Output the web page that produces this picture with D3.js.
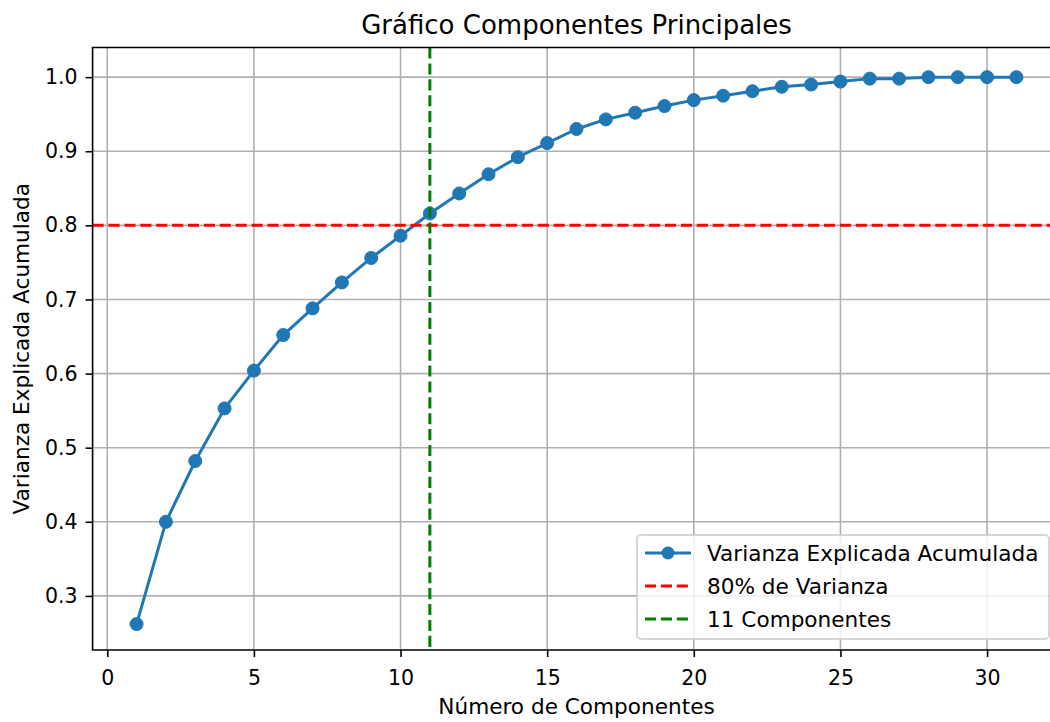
<!DOCTYPE html>
<html>
<head>
<meta charset="utf-8">
<script src="https://cdn.jsdelivr.net/npm/d3@7"></script>
<style>
  html, body { margin: 0; padding: 0; background: #fff; }
  svg { display: block; font-family: "DejaVu Sans", sans-serif; }
</style>
</head>
<body>
<svg id="chart" width="1050" height="722"></svg>
<script>
// ---- data ----
const components = [1,2,3,4,5,6,7,8,9,10,11,12,13,14,15,16,17,18,19,20,21,22,23,24,25,26,27,28,29,30,31];
const cumulativeVariance = [0.262,0.400,0.482,0.553,0.604,0.652,0.688,0.723,0.756,0.786,0.816,0.843,0.869,0.892,0.911,0.930,0.943,0.952,0.961,0.969,0.975,0.981,0.987,0.990,0.994,0.998,0.998,1.000,1.000,1.000,1.000];
const xTicks = [0,5,10,15,20,25,30];
const yTicks = [0.3,0.4,0.5,0.6,0.7,0.8,0.9,1.0];
const thresholdValue = [0.8];
const nComponents = [11];
const labels = {
  title: "Gráfico Componentes Principales",
  x: "Número de Componentes",
  y: "Varianza Explicada Acumulada",
  series: "Varianza Explicada Acumulada",
  threshold: "80% de Varianza",
  comps: "11 Componentes"
};

(function () {
// ---- layout ----
const svg = d3.select("#chart");
const pL = 92.6, pR = 1060.4, pT = 47.5, pB = 650;
const x = d3.scaleLinear().domain([-0.5, 32.5]).range([pL, pR]);
const y = d3.scaleLinear().domain([0.227, 1.040]).range([pB, pT]);
const blue = "#1f77b4";

svg.append("defs").append("clipPath").attr("id", "clip")
  .append("rect").attr("x", pL).attr("y", pT).attr("width", pR - pL).attr("height", pB - pT);

// grid
const grid = svg.append("g").attr("clip-path", "url(#clip)");
grid.selectAll(".gx").data(xTicks).enter().append("line")
  .attr("x1", d => x(d)).attr("x2", d => x(d)).attr("y1", pT).attr("y2", pB)
  .attr("stroke", "#b0b0b0").attr("stroke-width", 1.6);
grid.selectAll(".gy").data(yTicks).enter().append("line")
  .attr("x1", pL).attr("x2", pR).attr("y1", d => y(d)).attr("y2", d => y(d))
  .attr("stroke", "#b0b0b0").attr("stroke-width", 1.6);

// data
const plot = svg.append("g").attr("clip-path", "url(#clip)");
const pts = components.map((c, i) => [c, cumulativeVariance[i]]);
plot.append("path").datum(pts)
  .attr("d", d3.line().x(d => x(d[0])).y(d => y(d[1])))
  .attr("fill", "none").attr("stroke", blue).attr("stroke-width", 3)
  .attr("stroke-linejoin", "round").attr("stroke-linecap", "square");
plot.selectAll("circle.pt").data(pts).enter().append("circle")
  .attr("cx", d => x(d[0])).attr("cy", d => y(d[1])).attr("r", 6.5)
  .attr("fill", blue).attr("stroke", blue).attr("stroke-width", 1);

// reference lines
plot.selectAll(".hline").data(thresholdValue).enter().append("line")
  .attr("x1", pL).attr("x2", pR).attr("y1", d => y(d)).attr("y2", d => y(d))
  .attr("stroke", "red").attr("stroke-width", 3).attr("stroke-dasharray", "11.1,4.8");
plot.selectAll(".vline").data(nComponents).enter().append("line")
  .attr("x1", d => x(d)).attr("x2", d => x(d)).attr("y1", pT).attr("y2", pB)
  .attr("stroke", "green").attr("stroke-width", 3).attr("stroke-dasharray", "11.1,4.8");

// axes
const xAxis = d3.axisBottom(x).tickValues(xTicks).tickSizeInner(7).tickSizeOuter(0).tickPadding(7).tickFormat(d3.format("d"));
const gx = svg.append("g").attr("transform", `translate(0,${pB})`).call(xAxis);
const yAxis = d3.axisLeft(y).tickValues(yTicks).tickSizeInner(7).tickSizeOuter(0).tickPadding(8).tickFormat(d3.format(".1f"));
const gy = svg.append("g").attr("transform", `translate(${pL},0)`).call(yAxis);
[gx, gy].forEach(g => {
  g.select(".domain").remove();
  g.selectAll(".tick line").attr("stroke", "#000").attr("stroke-width", 1.6);
  g.selectAll(".tick text").attr("fill", "#000").style("font-size", "20.5px").style("font-family", "DejaVu Sans");
});
gx.selectAll(".tick text").attr("dy", null).attr("y", 35);

// spines
svg.append("line").attr("x1", pL).attr("x2", pL).attr("y1", pT).attr("y2", pB).attr("stroke", "#000").attr("stroke-width", 1.6);
svg.append("line").attr("x1", pL - 0.8).attr("x2", 1050).attr("y1", pB).attr("y2", pB).attr("stroke", "#000").attr("stroke-width", 1.6);
svg.append("line").attr("x1", pL - 0.8).attr("x2", 1050).attr("y1", pT).attr("y2", pT).attr("stroke", "#000").attr("stroke-width", 1.6);

// titles
svg.append("text").attr("x", (pL + pR) / 2).attr("y", 34).attr("text-anchor", "middle")
  .style("font-size", "26px").attr("fill", "#000").text(labels.title);
svg.append("text").attr("x", (pL + pR) / 2).attr("y", 714).attr("text-anchor", "middle")
  .style("font-size", "21.6px").attr("fill", "#000").text(labels.x);
svg.append("text").attr("transform", `translate(29,${(pT + pB) / 2}) rotate(-90)`).attr("text-anchor", "middle")
  .style("font-size", "21.6px").attr("fill", "#000").text(labels.y);

// legend
const lg = svg.append("g");
lg.append("rect").attr("x", 637).attr("y", 535).attr("width", 412).attr("height", 104).attr("rx", 4)
  .attr("fill", "#fff").attr("fill-opacity", 0.8).attr("stroke", "#cccccc").attr("stroke-opacity", 0.8).attr("stroke-width", 2);
const legendItems = [
  { label: labels.series, color: blue, dash: null, marker: true },
  { label: labels.threshold, color: "red", dash: "11.1,4.8", marker: false },
  { label: labels.comps, color: "green", dash: "11.1,4.8", marker: false }
];
legendItems.forEach((it, i) => {
  const cy = 553 + i * 33;
  lg.append("line").attr("x1", 645).attr("x2", 691).attr("y1", cy).attr("y2", cy)
    .attr("stroke", it.color).attr("stroke-width", 3).attr("stroke-dasharray", it.dash);
  if (it.marker) lg.append("circle").attr("cx", 668).attr("cy", cy).attr("r", 6.5).attr("fill", it.color);
  lg.append("text").attr("x", 707).attr("y", cy + 7.5).style("font-size", "21.6px").attr("fill", "#000").text(it.label);
});
})();
</script>
</body>
</html>
